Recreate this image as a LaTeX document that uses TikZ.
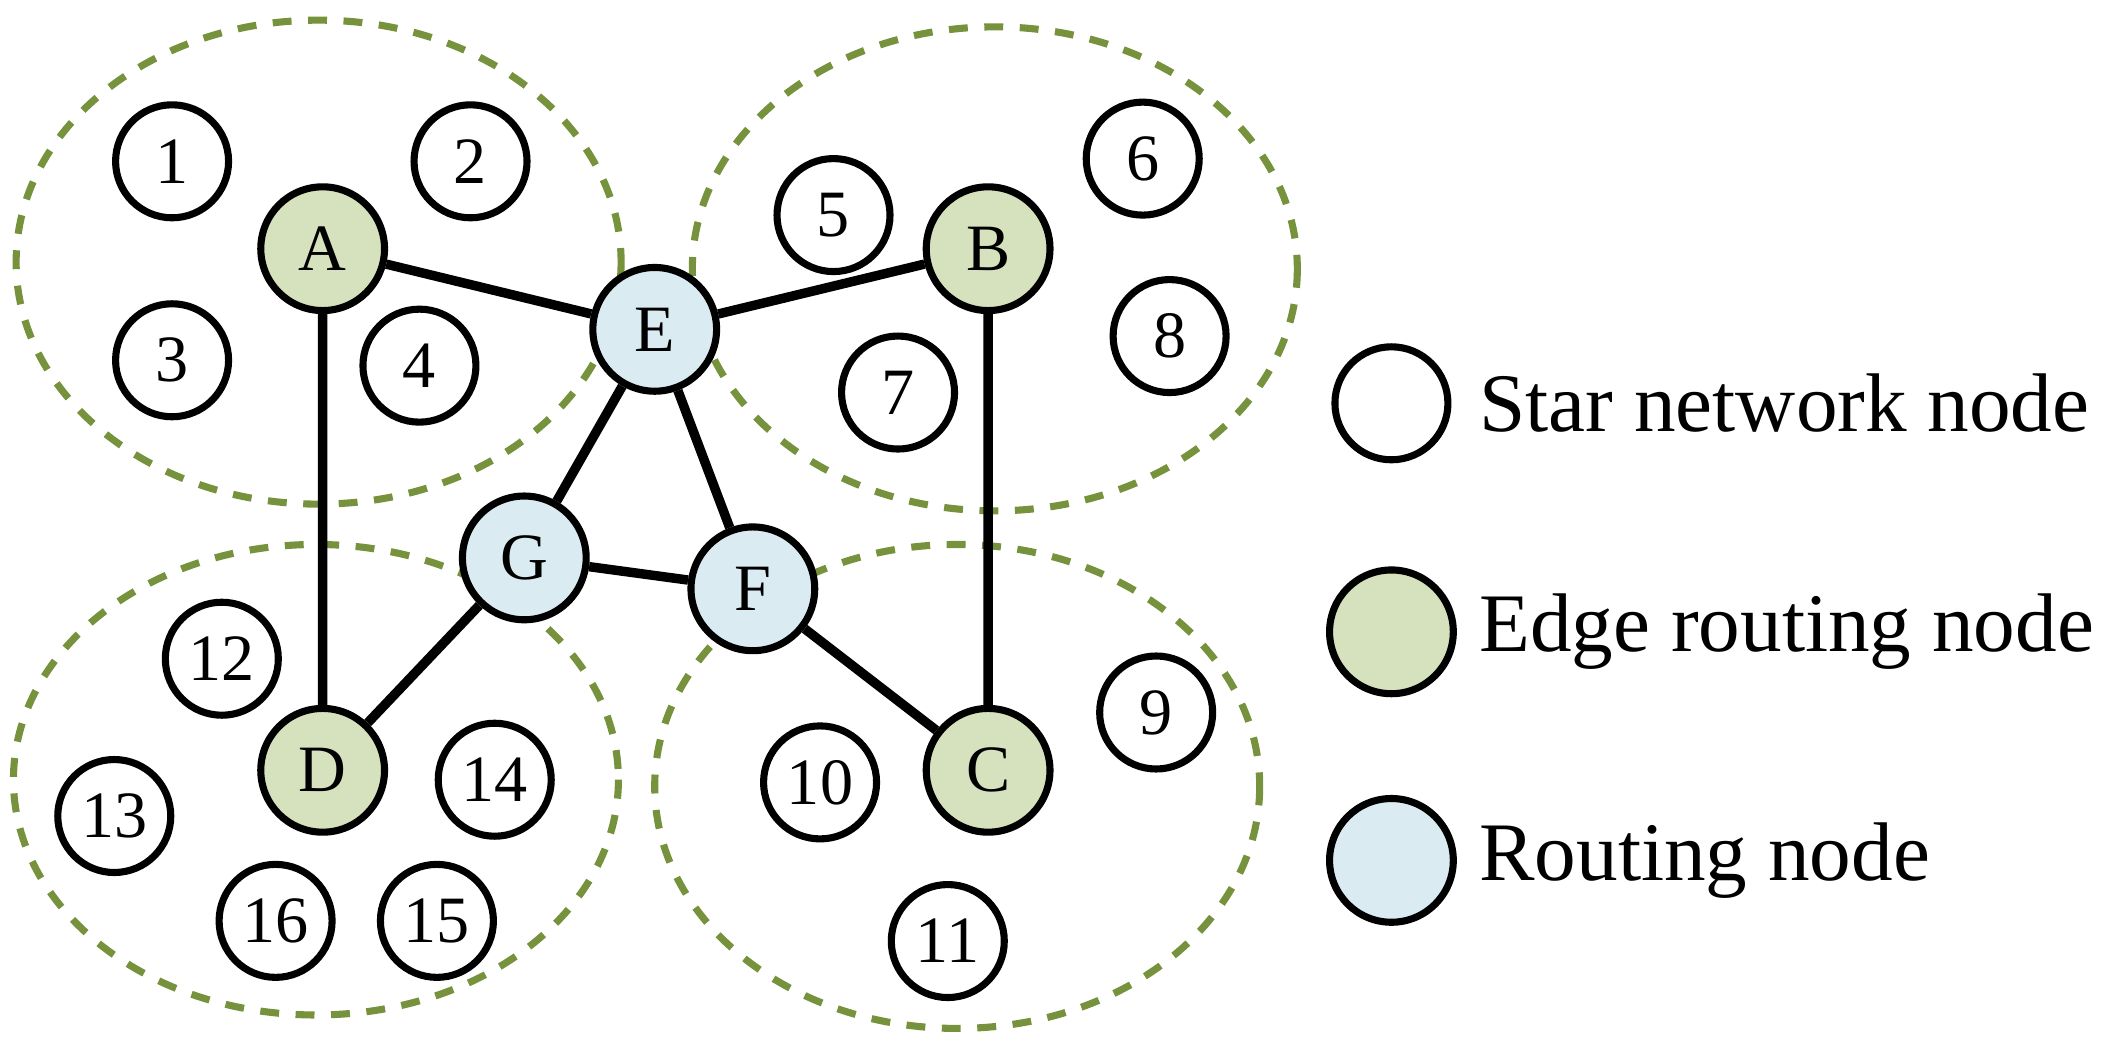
\documentclass[tikz,border=0pt]{standalone}
\usepackage{fontspec}
\setmainfont{Liberation Serif}
\begin{document}
\definecolor{eg}{RGB}{214,225,190}
\definecolor{rb}{RGB}{218,236,242}
\definecolor{dg}{RGB}{118,146,60}
\begin{tikzpicture}[x=0.01cm,y=-0.01cm,
 s/.style={circle,draw,line width=1.5pt,fill=white,minimum size=0.84cm,inner sep=0pt,font=\fontsize{14}{14}\selectfont},
 e/.style={s,fill=eg,minimum size=0.92cm},
 r/.style={s,fill=rb,minimum size=0.92cm},
 ell/.style={draw=dg,line width=1.5pt,dash pattern=on 4pt off 3.5pt},
 lk/.style={line width=2pt},
 lt/.style={anchor=west,font=\fontsize{17.6}{17.6}\selectfont}]
\useasboundingbox (0,0) rectangle (1568,771);
\draw[ell] (237,195) ellipse [x radius=225,y radius=180];
\draw[ell] (740,200) ellipse [x radius=225,y radius=180];
\draw[ell] (235,580) ellipse [x radius=225,y radius=175];
\draw[ell] (712,585) ellipse [x radius=225,y radius=180];
\node[e] (A) at (240,185) {A};
\node[e] (B) at (735,185) {B};
\node[e] (C) at (735,573) {C};
\node[e] (D) at (240,573) {D};
\node[r] (E) at (487,245) {E};
\node[r] (F) at (560,438) {F};
\node[r] (G) at (390,415) {G};
\draw[lk] (A)--(E) (E)--(B) (A)--(D) (B)--(C) (E)--(G) (E)--(F) (G)--(F) (G)--(D) (F)--(C);
\node[s] (n1) at (128,120) {1};
\node[s] (n2) at (350,120) {2};
\node[s] (n3) at (128,268) {3};
\node[s] (n4) at (312,272) {4};
\node[s] (n5) at (620,160) {5};
\node[s] (n6) at (850,118) {6};
\node[s] (n7) at (668,292) {7};
\node[s] (n8) at (870,250) {8};
\node[s] (n9) at (860,530) {9};
\node[s] (n10) at (610,582) {10};
\node[s] (n11) at (705,700) {11};
\node[s] (n12) at (165,490) {12};
\node[s] (n13) at (85,607) {13};
\node[s] (n14) at (368,580) {14};
\node[s] (n15) at (325,685) {15};
\node[s] (n16) at (205,685) {16};
\node[s] (l1) at (1035,300) {};
\node[e] (l2) at (1035,470) {};
\node[r] (l3) at (1035,640) {};
\node[lt] (t1) at (1088,300) {Star network node};
\node[lt] (t2) at (1088,470) {Edge routing node};
\node[lt] (t3) at (1088,640) {Routing node};
\end{tikzpicture}
\end{document}
